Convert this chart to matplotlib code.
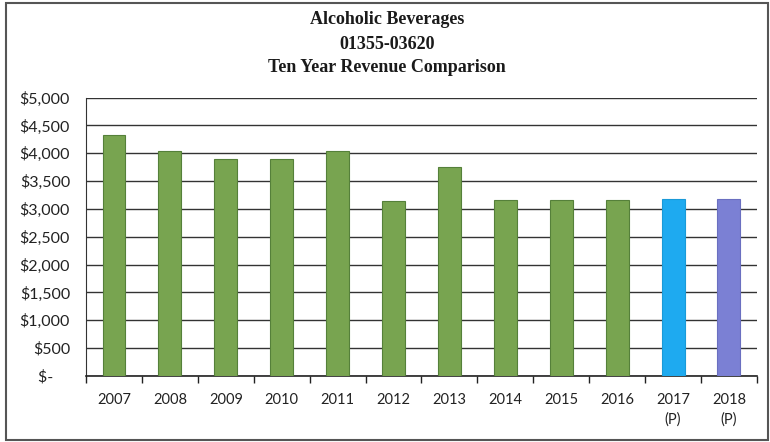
import matplotlib
matplotlib.use("Agg")
import matplotlib.pyplot as plt
from matplotlib.patches import Rectangle
from matplotlib.ticker import FixedLocator

years = ["2007", "2008", "2009", "2010", "2011", "2012", "2013",
         "2014", "2015", "2016", "2017\n(P)", "2018\n(P)"]
revenue = [4330, 4040, 3890, 3890, 4045, 3150, 3745, 3160, 3160, 3160, 3170, 3170]
bar_colors = ["#78a450"] * 10 + ["#1eaaf0", "#7b80d4"]
edge_colors = ["#55803a"] * 10 + ["#1a9ad8", "#6a6fc0"]
y_ticks = [0, 500, 1000, 1500, 2000, 2500, 3000, 3500, 4000, 4500, 5000]
y_labels = ["$-    "] + [f"${v:,}" for v in y_ticks[1:]]
title_lines = ["Alcoholic Beverages", "01355-03620", "Ten Year Revenue Comparison"]

fig = plt.figure(figsize=(7.7, 4.42), dpi=100)
ax = fig.add_axes([0.1117, 0.1493, 0.8713, 0.6301])

x = list(range(len(years)))
ax.bar(x, revenue, width=0.41, color=bar_colors, edgecolor=edge_colors,
       linewidth=0.8, zorder=3)

ax.set_xlim(-0.5, len(years) - 0.5)
ax.set_ylim(0, 5000)
ax.set_yticks(y_ticks)
ax.set_yticklabels(y_labels, fontfamily="Lato", fontsize=11.5, color="#222222")
ax.set_xticks(x)
ax.set_xticklabels(years, fontfamily="Lato", fontsize=10.5, color="#222222",
                   linespacing=1.5, va="top")
ax.tick_params(axis="x", which="major", length=0, pad=12)
ax.tick_params(axis="y", which="major", length=0, pad=11.5)
ax.xaxis.set_minor_locator(FixedLocator([i - 0.5 for i in range(len(years) + 1)]))
ax.tick_params(axis="x", which="minor", length=5, width=1, color="#222222")

ax.grid(axis="y", color="#333333", linewidth=1.0, zorder=0)
for side in ("top", "right"):
    ax.spines[side].set_visible(False)
ax.spines["left"].set_color("#333333")
ax.spines["bottom"].set_color("#222222")
ax.spines["bottom"].set_linewidth(1.2)

title_y = [0.957, 0.899, 0.847]
for text, yy in zip(title_lines, title_y):
    fig.text(0.503, yy, text, ha="center", va="center",
             fontfamily="Liberation Serif", fontweight="bold", fontsize=13,
             color="#1a1a1a")

fig.patches.append(Rectangle((6 / 770, 2 / 442), 762 / 770, 437 / 442,
                             transform=fig.transFigure, fill=False,
                             edgecolor="#555555", linewidth=1.5))

fig.savefig("out.png", dpi=100)
